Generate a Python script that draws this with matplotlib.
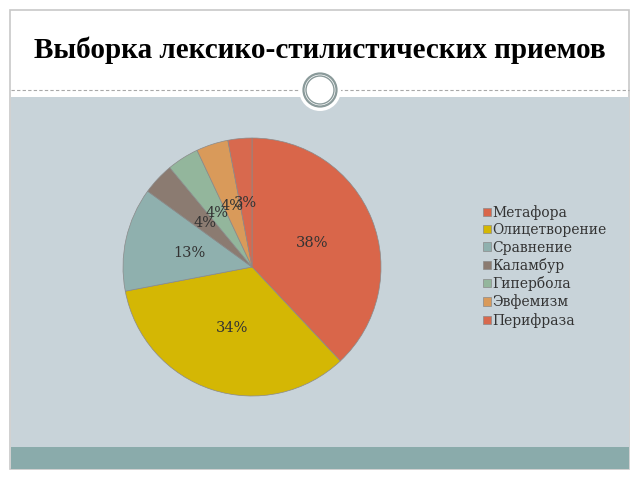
import matplotlib
matplotlib.use("Agg")
import matplotlib.pyplot as plt
from matplotlib.patches import Rectangle, Circle
from matplotlib.lines import Line2D

title = "Выборка лексико-стилистических приемов"
categories = ["Метафора", "Олицетворение", "Сравнение", "Каламбур",
              "Гипербола", "Эвфемизм", "Перифраза"]
values = [38, 34, 13, 4, 4, 4, 3]
colors = ["#d9664a", "#d4b704", "#8fb0ae", "#8b7b71", "#93b69c", "#d99a5a", "#d8694e"]

W, H = 640, 480
fig = plt.figure(figsize=(6.4, 4.8), dpi=100)
fig.patch.set_facecolor("white")

# decoration layer in pixel coordinates
bg = fig.add_axes([0, 0, 1, 1])
bg.set_xlim(0, W)
bg.set_ylim(H, 0)
bg.axis("off")
bg.add_patch(Rectangle((10, 10), 619, 459, facecolor="white", edgecolor="#c8c8c8", lw=1.2, zorder=1))
bg.add_patch(Rectangle((10.5, 97), 618, 350, facecolor="#c8d3d9", edgecolor="none", zorder=2))
bg.add_patch(Rectangle((10.5, 447), 618, 22, facecolor="#8aabab", edgecolor="none", zorder=2))
bg.add_line(Line2D([11, 629], [89.5, 89.5], color="#a8a8a8", lw=0.8, ls=(0, (3, 2)), zorder=3))
bg.add_patch(Circle((320, 90), 21, facecolor="white", edgecolor="none", zorder=4))
bg.add_patch(Circle((320, 90), 16.5, facecolor="white", edgecolor="#8a9a9a", lw=1.6, zorder=5))
bg.add_patch(Circle((320, 90), 14, facecolor="white", edgecolor="#8a9a9a", lw=1.0, zorder=5))
bg.text(320, 50, title, ha="center", va="center", fontsize=21, fontweight="bold",
        family="Liberation Serif", color="black", zorder=6)

# pie
cx, cy, r = 252, 267, 129
ax = fig.add_axes([(cx - r) / W, (H - cy - r) / H, 2 * r / W, 2 * r / H])
wedges, texts, autotexts = ax.pie(values, colors=colors, startangle=90, counterclock=False,
                                  autopct="%d%%", pctdistance=0.5,
                                  wedgeprops=dict(edgecolor="#8a8a8a", linewidth=0.5),
                                  textprops=dict(family="DejaVu Serif", fontsize=10.5, color="#333333"))
ax.set_xlim(-1, 1)
ax.set_ylim(-1, 1)
ax.set_aspect("equal")

leg = fig.legend(wedges, categories, loc="upper left", bbox_to_anchor=(483 / W, 1 - 205 / H),
                 frameon=False, prop=dict(family="DejaVu Serif", size=10),
                 handlelength=0.55, handleheight=0.55, handletextpad=0.15,
                 labelspacing=0.24, borderaxespad=0, borderpad=0)
for t in leg.get_texts():
    t.set_color("#333333")

fig.savefig("out.png", dpi=100)
